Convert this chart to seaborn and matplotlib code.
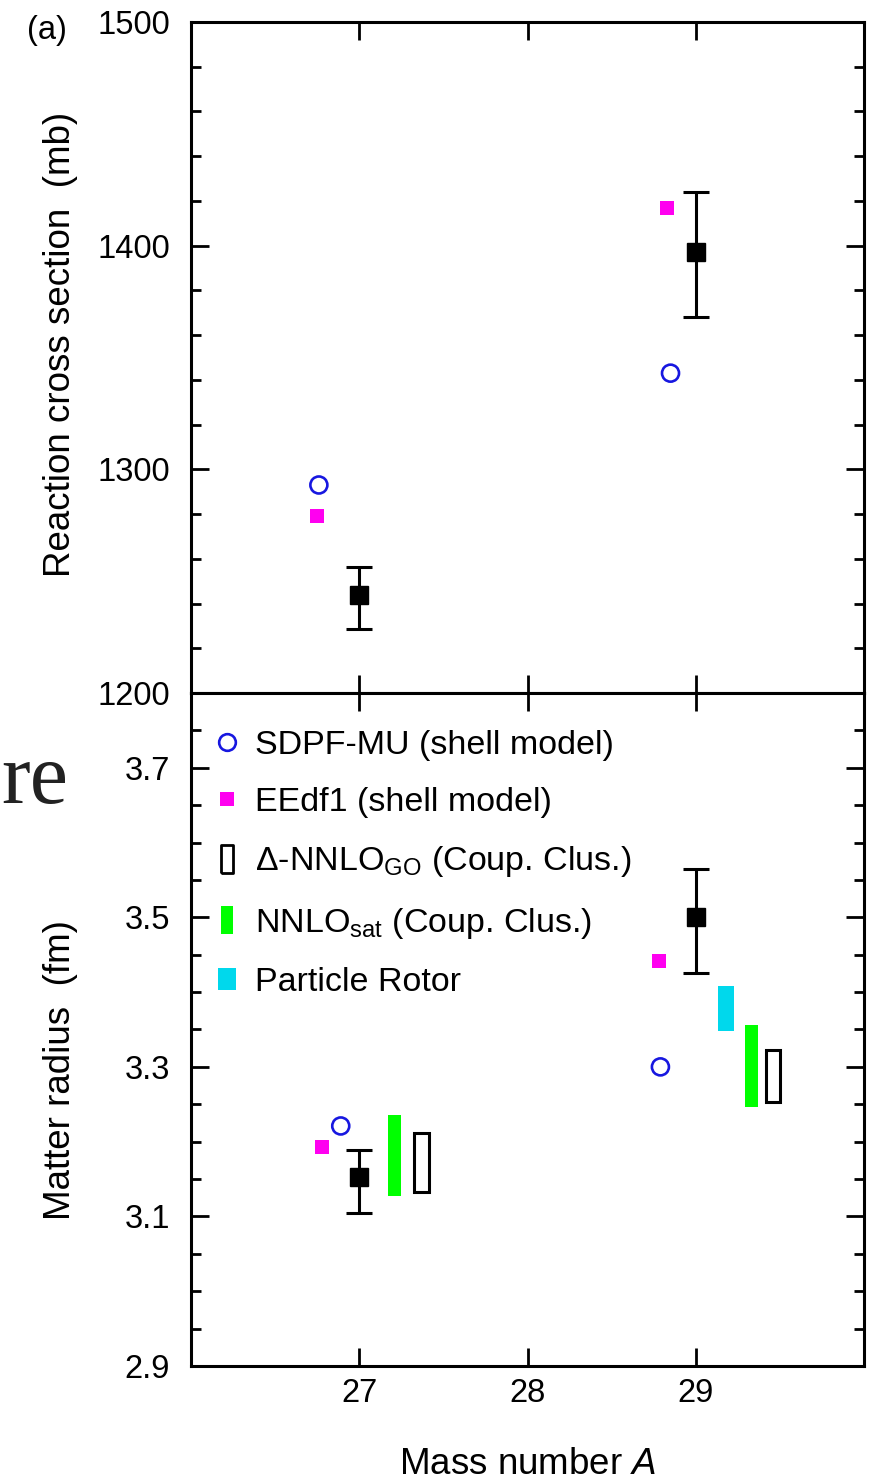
import matplotlib
matplotlib.use("Agg")
import matplotlib.pyplot as plt
import seaborn as sns
import pandas as pd
import numpy as np
from matplotlib.lines import Line2D
from matplotlib.ticker import MultipleLocator

# Mass numbers
mass = [27, 29]

# Experiment: reaction cross section (mb) and matter radius (fm)
sigma_exp = [1244, 1397]
sigma_err_lo = [15.5, 29]
sigma_err_hi = [12.5, 27]
radius_exp = [3.153, 3.500]
radius_err_lo = [0.049, 0.075]
radius_err_hi = [0.036, 0.064]

# Shell model calculations
sdpf_sigma = [1293, 1343]
eedf_sigma = [1279, 1417]
sdpf_radius = [3.221, 3.300]
eedf_radius = [3.193, 3.441]

# Coupled cluster bands (lower, upper)
sat_lo = [3.127, 3.247]
sat_hi = [3.235, 3.356]
go_lo = [3.133, 3.253]
go_hi = [3.211, 3.323]

# Particle rotor (A = 29 only)
rotor_mass = [29]
rotor_lo = [3.348]
rotor_hi = [3.408]

# horizontal offsets so that the symbols do not overlap
off_sdpf_top = [-0.24, -0.15]
off_eedf_top = [-0.25, -0.17]
off_sdpf_bot = [-0.11, -0.21]
off_eedf_bot = [-0.22, -0.22]
off_sat = [0.21, 0.33]
off_go = [0.37, 0.46]
off_rotor = [0.18]

BLUE = "#1717e0"
MAGENTA = "#ff00f0"
GREEN = "#00ff00"
CYAN = "#00d8ec"

sns.set_theme(style="ticks")
plt.rcParams["font.family"] = ["Liberation Sans", "DejaVu Sans"]
plt.rcParams["mathtext.fontset"] = "custom"
plt.rcParams["mathtext.rm"] = "Liberation Sans"
plt.rcParams["mathtext.it"] = "Liberation Sans:italic"
plt.rcParams["text.color"] = "black"
plt.rcParams["axes.labelcolor"] = "black"
TICK_FS = 23.5
LAB_FS = 26.5
LEG_FS = 24.5

fig = plt.figure(figsize=(8.84, 14.81), dpi=100)
ax1 = fig.add_axes([191 / 884, 1 - 693 / 1481, 673 / 884, 671 / 1481])
ax2 = fig.add_axes([191 / 884, 1 - 1366 / 1481, 673 / 884, 673 / 1481], sharex=ax1)

# ---- top panel: reaction cross section
top = pd.DataFrame({
    "A": mass,
    "sdpf": sdpf_sigma,
    "eedf": eedf_sigma,
})
top["x_sdpf"] = top["A"] + np.array(off_sdpf_top)
top["x_eedf"] = top["A"] + np.array(off_eedf_top)
sns.scatterplot(data=top, x="x_sdpf", y="sdpf", ax=ax1, marker="o", s=150,
                facecolor="none", edgecolor=BLUE, linewidth=1.9, zorder=3)
sns.scatterplot(data=top, x="x_eedf", y="eedf", ax=ax1, marker="s", s=110,
                color=MAGENTA, linewidth=0, zorder=3)
ax1.errorbar(mass, sigma_exp, yerr=[sigma_err_lo, sigma_err_hi], fmt="s",
             color="black", markersize=13, capsize=9.5, elinewidth=2.2,
             capthick=2.2, zorder=4)

ax1.set_ylim(1200, 1500)
ax1.yaxis.set_major_locator(MultipleLocator(100))
ax1.yaxis.set_minor_locator(MultipleLocator(20))
ax1.set_ylabel("Reaction cross section  (mb)", fontsize=LAB_FS)
ax1.yaxis.set_label_coords(-0.168, 0.52)
ax1.set_xlabel("")
ax1.tick_params(axis="x", labelbottom=False)

# ---- bottom panel: matter radius
bot = pd.DataFrame({
    "A": mass,
    "sdpf": sdpf_radius,
    "eedf": eedf_radius,
})
bot["x_sdpf"] = bot["A"] + np.array(off_sdpf_bot)
bot["x_eedf"] = bot["A"] + np.array(off_eedf_bot)

ax2.bar(np.array(mass) + np.array(off_sat), np.array(sat_hi) - np.array(sat_lo),
        bottom=sat_lo, width=0.08, color=GREEN, linewidth=0, zorder=2)
ax2.bar(np.array(mass) + np.array(off_go), np.array(go_hi) - np.array(go_lo),
        bottom=go_lo, width=0.085, facecolor="white", edgecolor="black",
        linewidth=2.2, zorder=2)
ax2.bar(np.array(rotor_mass) + np.array(off_rotor),
        np.array(rotor_hi) - np.array(rotor_lo),
        bottom=rotor_lo, width=0.1, color=CYAN, linewidth=0, zorder=2)
sns.scatterplot(data=bot, x="x_sdpf", y="sdpf", ax=ax2, marker="o", s=150,
                facecolor="none", edgecolor=BLUE, linewidth=1.9, zorder=3)
sns.scatterplot(data=bot, x="x_eedf", y="eedf", ax=ax2, marker="s", s=110,
                color=MAGENTA, linewidth=0, zorder=3)
ax2.errorbar(mass, radius_exp, yerr=[radius_err_lo, radius_err_hi], fmt="s",
             color="black", markersize=13, capsize=9.5, elinewidth=2.2,
             capthick=2.2, zorder=4)

ax2.set_ylim(2.9, 3.8)
ax2.set_yticks([2.9, 3.1, 3.3, 3.5, 3.7])
ax2.yaxis.set_minor_locator(MultipleLocator(0.05))
ax2.set_ylabel("Matter radius  (fm)", fontsize=LAB_FS)
ax2.yaxis.set_label_coords(-0.168, 0.44)
ax2.set_xlim(26, 30)
ax2.set_xticks([27, 28, 29])
ax2.set_xlabel("Mass number $\\mathit{A}$", fontsize=LAB_FS, labelpad=27)

for ax in (ax1, ax2):
    ax.tick_params(which="both", direction="in", top=True, right=True,
                   width=2.0, labelsize=TICK_FS, colors="black")
    ax.tick_params(which="major", length=13)
    ax.tick_params(which="minor", length=7)
    ax.tick_params(axis="y", which="both", pad=15)
    ax.tick_params(axis="x", which="both", pad=9)
    ax.xaxis.set_minor_locator(plt.NullLocator())
    for sp in ax.spines.values():
        sp.set_linewidth(2.2)
        sp.set_color("black")

# legend
def rect(w, h):
    s = max(w, h)
    w, h = w / s / 2, h / s / 2
    return [(-w, -h), (w, -h), (w, h), (-w, h), (-w, -h)]

handles = [
    Line2D([], [], ls="none", marker="o", markersize=12, markerfacecolor="none",
           markeredgecolor=BLUE, markeredgewidth=1.9),
    Line2D([], [], ls="none", marker="s", markersize=10.5, markerfacecolor=MAGENTA,
           markeredgewidth=0),
    Line2D([], [], ls="none", marker=rect(11, 27), markersize=20,
           markerfacecolor="white", markeredgecolor="black", markeredgewidth=2.0),
    Line2D([], [], ls="none", marker=rect(12, 28), markersize=20,
           markerfacecolor=GREEN, markeredgewidth=0),
    Line2D([], [], ls="none", marker=rect(17, 22), markersize=16,
           markerfacecolor=CYAN, markeredgewidth=0),
]
labels = [
    "SDPF-MU (shell model)",
    "EEdf1 (shell model)",
    "Δ-NNLO$\\mathregular{_{GO}}$ (Coup. Clus.)",
    "NNLO$_{\\mathregular{sat}}$ (Coup. Clus.)",
    "Particle Rotor",
]
ax2.legend(handles, labels, loc="upper left", bbox_to_anchor=(0.03, 0.945),
           frameon=False, fontsize=LEG_FS, handlelength=0.9, handletextpad=0.4,
           labelspacing=0.77, borderpad=0, borderaxespad=0)

fig.text(47 / 884, 1 - 30 / 1481, "(a)", fontsize=TICK_FS, ha="center", va="center")
fig.text(1 / 884, 1 - 803 / 1481, "re", fontsize=62, ha="left", va="baseline",
         family=["Liberation Serif"], color="#222222")

fig.savefig("out.png", dpi=100)
